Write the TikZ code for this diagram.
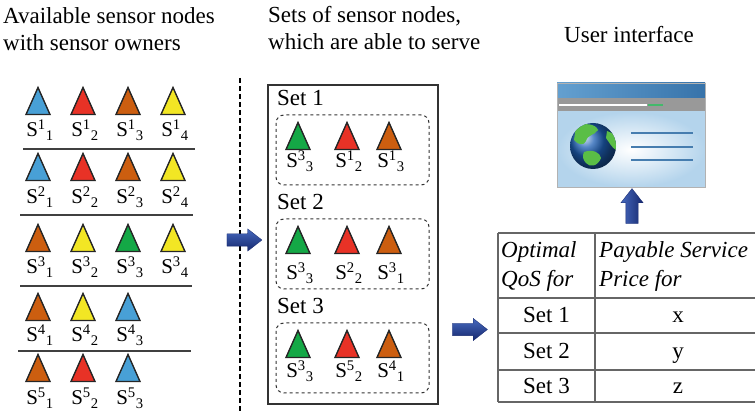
\documentclass[tikz,border=0pt]{standalone}
\usepackage{fontspec}
\setmainfont{Liberation Serif}
\usetikzlibrary{shapes.arrows, positioning}

\definecolor{sblue}{RGB}{72,160,214}
\definecolor{sred}{RGB}{232,50,38}
\definecolor{sorange}{RGB}{204,94,16}
\definecolor{syellow}{RGB}{242,230,36}
\definecolor{sgreen}{RGB}{20,168,70}
\definecolor{navytop}{RGB}{70,105,190}
\definecolor{navybot}{RGB}{22,40,110}
\definecolor{barleft}{RGB}{100,160,208}
\definecolor{barright}{RGB}{55,115,170}
\definecolor{pageblue}{RGB}{180,212,236}
\definecolor{globeblue}{RGB}{30,95,180}
\definecolor{landgreen}{RGB}{90,190,70}
\definecolor{textline}{RGB}{70,125,175}

\begin{document}
\begin{tikzpicture}[
    x=1pt, y=-1pt,
    font=\fontsize{23}{27}\selectfont,
    pics/sensor/.style={code={
      \filldraw[fill=#1, draw=black!85, line width=1.4pt, line join=miter]
        (-12,13.5) -- (0,-13.5) -- (12,13.5) -- cycle;}},
    slabel/.style={font=\fontsize{21}{24}\selectfont, inner sep=0pt, anchor=base},
    title/.style={align=left, anchor=base west, inner sep=0pt},
    setname/.style={anchor=base west, inner sep=0pt},
    setbox/.style={draw=black!80, dashed, line width=1pt, rounded corners=8pt},
    sep/.style={draw=black!75, line width=1.6pt},
    blockarrow/.style={single arrow, inner sep=6pt, single arrow head extend=5pt,
      single arrow tip angle=76, minimum height=35pt, draw=navybot, line width=0.3pt},
    cell/.style={inner sep=0pt, anchor=base},
    grid/.style={draw=black!60, line width=1.1pt}
]

\useasboundingbox (0,0) rectangle (755,411);

% column titles (base = last line)
\node[title] (avail) at (3,51) {Available sensor nodes\\with sensor owners};
\node[title] (sets) at (268,50) {Sets of sensor nodes,\\which are able to serve};
\node[anchor=base, inner sep=0pt] (uititle) at (629,43) {User interface};

% left column: one row of sensors per owner
\foreach \row/\yc/\dl/\cols in {1/101/36/{sblue,sred,sorange,syellow},
    2/167/37/{sblue,sred,sorange,syellow},
    3/238/36/{sorange,syellow,sgreen,syellow},
    4/307/35/{sorange,syellow,sblue},
    5/368/37/{sorange,sred,sblue}}{
  \foreach \c [count=\i] in \cols{
    \pic at ({38+45*(\i-1)},\yc) {sensor=\c};
    \node[slabel] (s\row\i) at ({40+45*(\i-1)},\yc+\dl) {S\textsuperscript{\row}\textsubscript{\i}};
  }
}
\draw[sep] (23,149) -- (195,149);
\draw[sep] (20,215) -- (193,215);
\draw[sep] (20,286) -- (192,286);
\draw[sep] (18,351) -- (191,351);

% divider
\draw[dashed, line width=1.2pt, dash pattern=on 5pt off 3pt] (240,78) -- (240,411);

% middle column: sets able to serve
\draw[line width=1.3pt, draw=black!80] (268,85) rectangle (438,404);
\foreach \k/\top/\dl/\ua/\la/\ub/\lb/\uc/\lc in {1/115/53/3/3/1/2/1/3,
    2/219/61/3/3/2/2/3/1,
    3/323/55/3/3/5/2/4/1}{
  \node[setname] (set\k) at (277,\top-9) {Set \k};
  \draw[setbox] (276,\top) rectangle (429,\top+70);
  \pic at (298,\top+21) {sensor=sgreen};
  \pic at (347,\top+21) {sensor=sred};
  \pic at (389,\top+21) {sensor=sorange};
  \node[slabel] (m\k a) at (300,\top+\dl) {S\textsuperscript{\ua}\textsubscript{\la}};
  \node[slabel] (m\k b) at (349,\top+\dl) {S\textsuperscript{\ub}\textsubscript{\lb}};
  \node[slabel] (m\k c) at (391,\top+\dl) {S\textsuperscript{\uc}\textsubscript{\lc}};
}

% block arrows
\node[blockarrow, top color=navytop, bottom color=navybot] (toSets) at (240.5,240) {};
\node[blockarrow, top color=navytop, bottom color=navybot] (toTable) at (466,329.5) {};
\node[blockarrow, shape border rotate=90, left color=navytop, right color=navybot] (toUI) at (632,210) {};

% browser window
\draw[draw=black!35, line width=0.8pt] (557,83) rectangle (705,187);
\shade[left color=barleft, right color=barright] (557,83) rectangle (705,98);
\fill[black!40] (557,98) rectangle (705,112);
\draw[white, line width=1.5pt] (559,105) -- (647,105);
\draw[sgreen!80, line width=1.5pt] (648,105) -- (663,105);
\shade[inner color=white, outer color=pageblue] (557,112) rectangle (705,187);
\draw[draw=black!30, line width=0.8pt] (557,83) rectangle (705,187);
\shade[ball color=globeblue] (593,146) circle (23);
\begin{scope}
  \clip (593,146) circle (23);
  \fill[landgreen] (576,127) .. controls (584,122) and (596,124) .. (598,130)
    .. controls (594,136) and (588,134) .. (586,141)
    .. controls (584,146) and (578,145) .. (574,140) -- cycle;
  \fill[landgreen] (607,131) .. controls (614,132) and (618,140) .. (616,150)
    .. controls (612,148) and (609,142) .. (606,138) -- cycle;
  \fill[landgreen] (584,152) .. controls (592,149) and (600,152) .. (601,158)
    .. controls (598,166) and (590,168) .. (586,163)
    .. controls (583,160) and (582,156) .. (584,152) -- cycle;
\end{scope}
\foreach \ly in {133,147,160}
  \draw[textline, line width=2pt] (631,\ly) -- (693,\ly);

% table of QoS and prices
\draw[grid] (498,233) -- (761,233);
\draw[grid] (498,298) -- (761,298);
\draw[grid] (498,333) -- (761,333);
\draw[grid] (498,370) -- (761,370);
\draw[grid] (498,402) -- (761,402);
\draw[grid] (498,233) -- (498,402);
\draw[grid] (595,233) -- (595,402);
\draw[grid] (761,233) -- (761,402);
\node[title] (qos) at (501,287) {\itshape Optimal\\[2pt]\itshape QoS for};
\node[title] (price) at (599,287) {\itshape Payable Service\\[2pt]\itshape Price for};
\foreach \r/\yb/\v in {1/323/x, 2/359/y, 3/394/z}{
  \node[cell] (row\r) at (546.5,\yb) {Set \r};
  \node[cell] (val\r) at (678,\yb) {\v};
}

\end{tikzpicture}
\end{document}
